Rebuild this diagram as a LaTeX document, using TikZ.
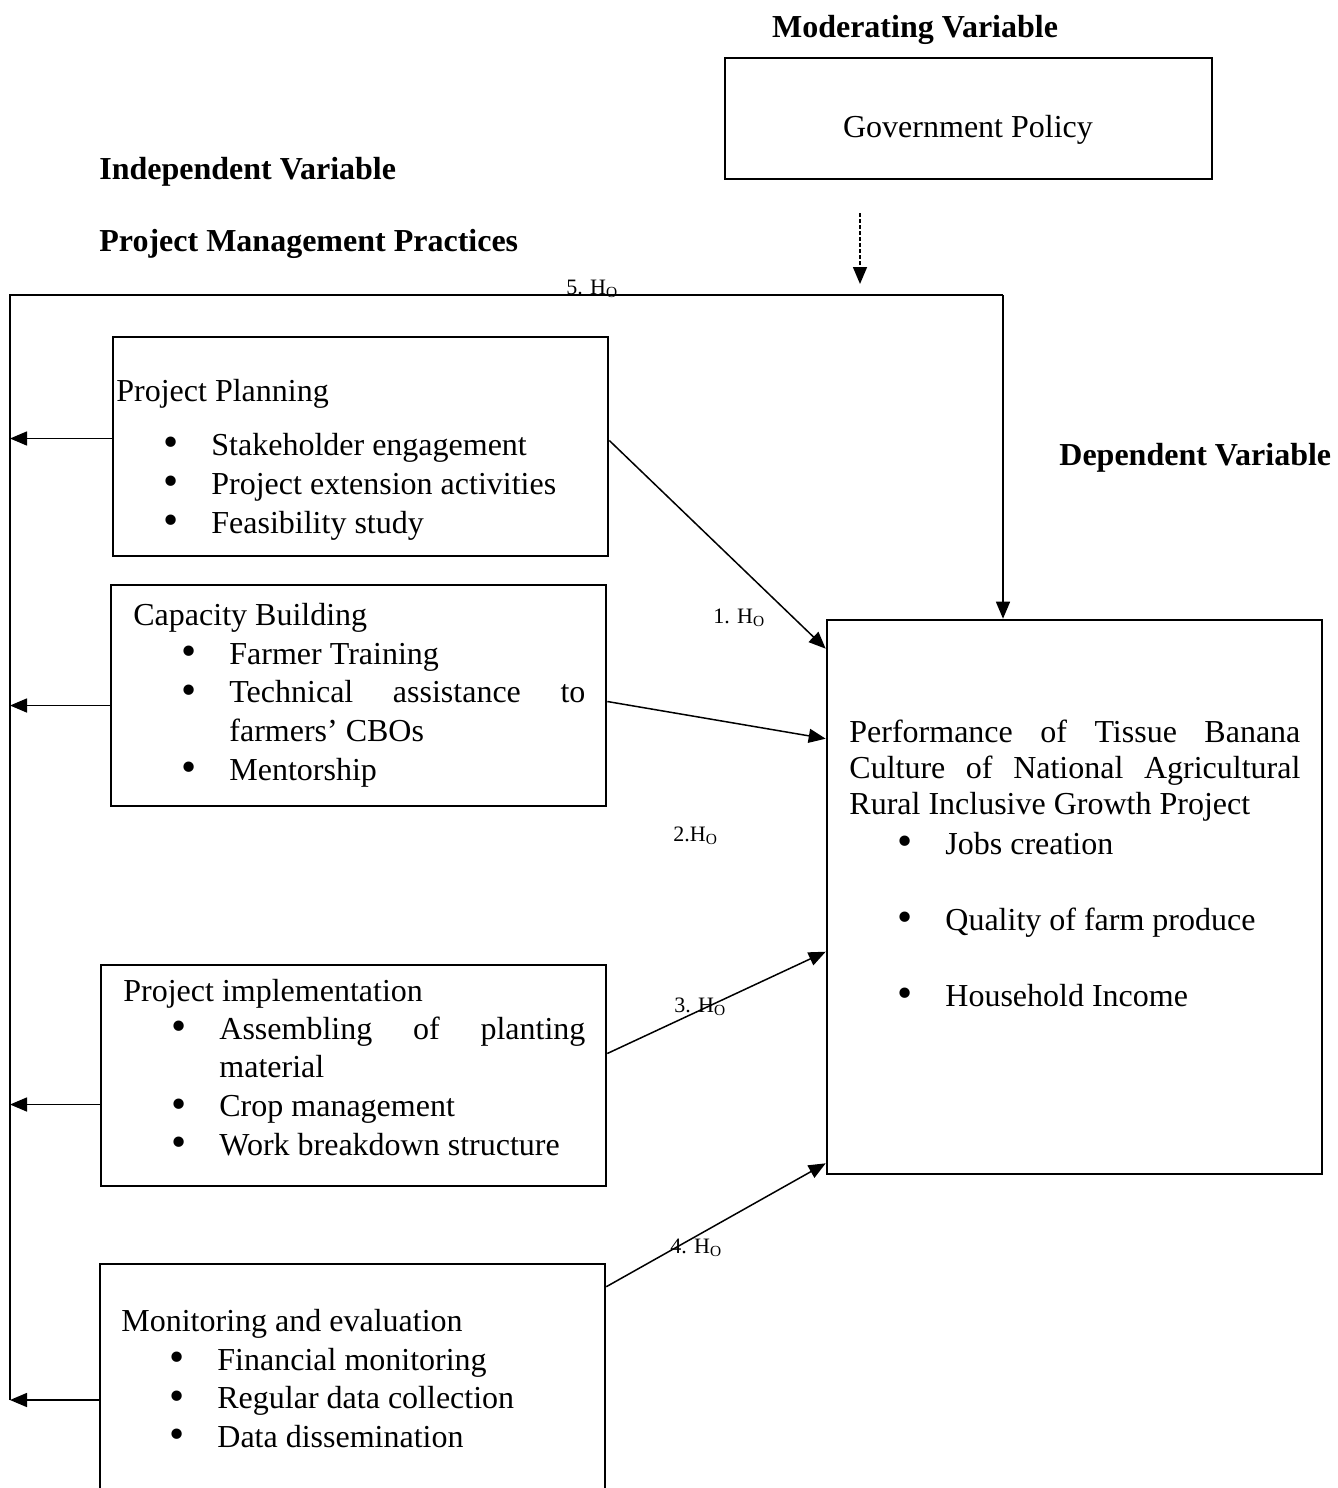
\documentclass[tikz,border=0pt]{standalone}
\usepackage{fontspec}
\setmainfont{Liberation Serif}
\usetikzlibrary{positioning, arrows.meta, calc}
\newcommand{\bul}{\llap{\raisebox{-0.8pt}{\scalebox{1.35}{\textbullet}}\hspace{16.5pt}}}

\begin{document}
\begin{tikzpicture}[x=0.5pt, y=-0.5pt,
    font=\fontsize{16}{19.5}\selectfont,
    varbox/.style={draw, line width=1.3pt, inner sep=0pt},
    heading/.style={font=\fontsize{16}{19.5}\selectfont\bfseries, anchor=base west, inner sep=0pt},
    txt/.style={anchor=base west, inner sep=0pt},
    hyp/.style={font=\fontsize{11}{13}\selectfont, anchor=base west, inner sep=0pt},
    spine/.style={line width=1pt},
    link/.style={line width=0.75pt, -{Triangle[length=8.5pt,width=7pt]}}]
  \useasboundingbox (0,0) rectangle (1338,1488);

  % --- headings ---
  \node[heading, anchor=base] (modh) at (915,38) {Moderating Variable};
  \node[heading] (indh) at (99,179) {Independent Variable};
  \node[heading] (pmph) at (99,251) {Project Management Practices};
  \node[heading] (deph) at (1059,465) {Dependent Variable};

  % --- moderating variable ---
  \node[varbox, minimum width=243.5pt, minimum height=60.5pt] (gov) at (968.5,118.5) {};
  \node[txt, anchor=base] (gov-t) at (968,137) {Government Policy};
  \coordinate (dtop) at (860,213);
  \coordinate (dbot) at (860,284);
  \draw[link, dash pattern=on 2pt off 1pt] (dtop) -- (dbot);

  % --- project planning ---
  \node[varbox, minimum width=247.5pt, minimum height=109.5pt] (pp) at (360.5,446.5) {};
  \node[txt] (pp-t) at (116,401) {Project Planning};
  \foreach \t [count=\i] in {Stakeholder engagement, Project extension activities, Feasibility study}
    \node[txt] (pp-\i) at (211,{455+39*(\i-1)}) {\bul\t};

  % --- capacity building ---
  \node[varbox, minimum width=247.5pt, minimum height=110.5pt] (cb) at (358.5,695.5) {};
  \node[txt] (cb-t) at (133,625) {Capacity Building};
  \foreach \t [count=\i] in {\bul Farmer Training, \bul\makebox[178pt][s]{Technical assistance to}, farmers’ CBOs, \bul Mentorship}
    \node[txt] (cb-\i) at (229,{664+38.7*(\i-1)}) {\t};

  % --- project implementation ---
  \node[varbox, minimum width=252.5pt, minimum height=110.5pt] (pi) at (353.5,1075.5) {};
  \node[txt] (pi-t) at (123,1001) {Project implementation};
  \foreach \t [count=\i] in {\bul\makebox[183pt][s]{Assembling of planting}, material, \bul Crop management, \bul Work breakdown structure}
    \node[txt] (pi-\i) at (219,{1039+38.7*(\i-1)}) {\t};

  % --- monitoring and evaluation ---
  \node[varbox, minimum width=252.5pt, minimum height=123pt] (me) at (352.5,1387) {};
  \node[txt] (me-t) at (121,1331) {Monitoring and evaluation};
  \foreach \t [count=\i] in {Financial monitoring, Regular data collection, Data dissemination}
    \node[txt] (me-\i) at (217,{1370+38.5*(\i-1)}) {\bul\t};

  % --- dependent variable ---
  \node[varbox, minimum width=247.5pt, minimum height=277pt] (dv) at (1074.5,897) {};
  \foreach \t [count=\i] in {\makebox[225.5pt][s]{Performance of Tissue Banana}, \makebox[225.5pt][s]{Culture of National Agricultural}, Rural Inclusive Growth Project}
    \node[txt] (dv-\i) at (849,{742+36*(\i-1)}) {\t};
  \foreach \t [count=\i] in {Jobs creation, Quality of farm produce, Household Income}
    \node[txt] (dv-b\i) at (945,{854+76*(\i-1)}) {\bul\t};

  % --- moderator line and spine ---
  \coordinate (ltop) at (10,295);
  \coordinate (rtop) at (1003,295);
  \coordinate (lbot) at (10,1400);
  \draw[spine] (lbot) -- (ltop) -- (rtop);
  \draw[link] (rtop) -- (rtop |- dv.north);
  \node[hyp] (h5) at (566,294) {5. H\textsubscript{O}};

  % --- feedback arrows to the spine ---
  \coordinate (pp-o) at ($(pp.west)+(0,-8)$);
  \coordinate (cb-o) at ($(cb.west)+(0,10)$);
  \coordinate (pi-o) at ($(pi.west)+(0,29)$);
  \coordinate (me-o) at ($(me.west)+(0,13)$);
  \foreach \b in {pp, cb, pi, me}
    \draw[link] (\b-o) -- (\b-o -| ltop);

  % --- hypotheses ---
  \draw[link] ($(pp.east)+(0,-6)$) -- ($(dv.north west)+(0,30)$);
  \draw[link] ($(cb.east)+(0,6)$) -- ($(dv.north west)+(0,120)$);
  \draw[link] ($(pi.east)+(0,-22)$) -- ($(dv.north west)+(0,333)$);
  \draw[link] ($(me.north east)+(0,24)$) -- ($(dv.south west)+(0,-12)$);
  \node[hyp] (h1) at (713,623) {1. H\textsubscript{O}};
  \node[hyp] (h2) at (673,841) {2.H\textsubscript{O}};
  \node[hyp] (h3) at (674,1012) {3. H\textsubscript{O}};
  \node[hyp] (h4) at (670,1253) {4. H\textsubscript{O}};
\end{tikzpicture}
\end{document}
